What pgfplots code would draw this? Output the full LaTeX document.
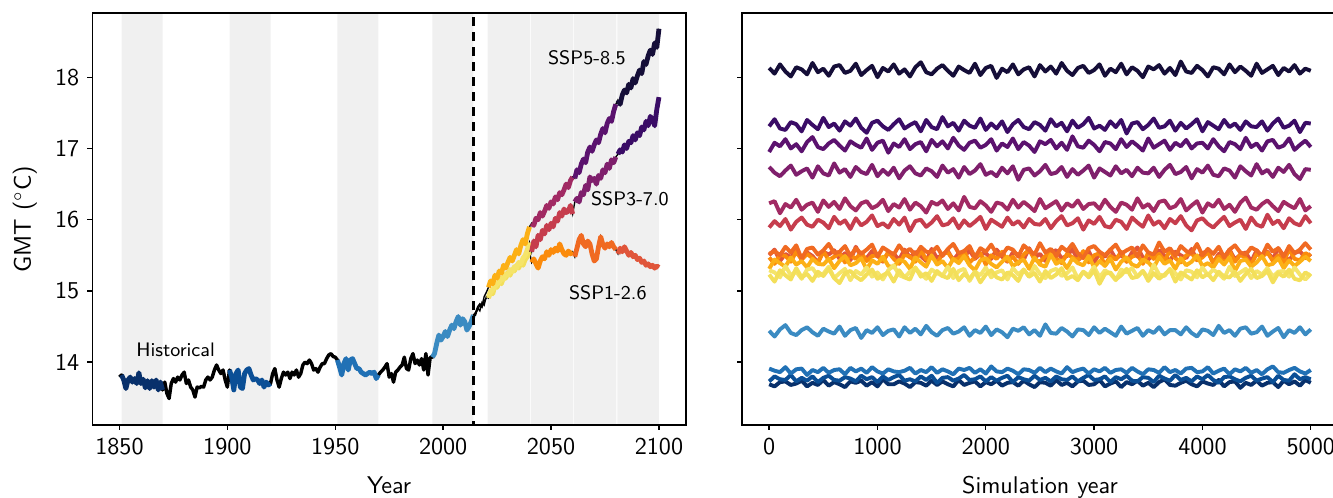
\documentclass[border=0pt]{standalone}
\usepackage{pgfplots}
\usepackage{pgfplotstable}
\pgfplotsset{compat=1.18}

\definecolor{bandgray}{RGB}{240,240,240}
\definecolor{hista}{HTML}{08306B}
\definecolor{histb}{HTML}{0B4F96}
\definecolor{histc}{HTML}{2171B5}
\definecolor{histd}{HTML}{3B8BC2}
\definecolor{sonea}{HTML}{F3DF5A}
\definecolor{soneb}{HTML}{FB8B0C}
\definecolor{sonec}{HTML}{F06A22}
\definecolor{soned}{HTML}{E0553A}
\definecolor{sthreea}{HTML}{F5E46A}
\definecolor{sthreeb}{HTML}{C63D4D}
\definecolor{sthreec}{HTML}{7F1F6C}
\definecolor{sthreed}{HTML}{3A0C66}
\definecolor{sfivea}{HTML}{FCB016}
\definecolor{sfiveb}{HTML}{A12A63}
\definecolor{sfivec}{HTML}{5B126E}
\definecolor{sfived}{HTML}{150E38}

% historical GMT
\pgfplotstableread{
year T
1850 13.79
1851 13.82
1852 13.75
1853 13.63
1854 13.75
1855 13.79
1856 13.72
1857 13.77
1858 13.70
1859 13.85
1860 13.70
1861 13.76
1862 13.64
1863 13.74
1864 13.63
1865 13.74
1866 13.65
1867 13.75
1868 13.61
1869 13.72
1870 13.61
1871 13.72
1872 13.56
1873 13.49
1874 13.70
1875 13.77
1876 13.72
1877 13.79
1878 13.75
1879 13.82
1880 13.86
1881 13.70
1882 13.75
1883 13.65
1884 13.61
1885 13.51
1886 13.65
1887 13.64
1888 13.66
1889 13.65
1890 13.75
1891 13.79
1892 13.75
1893 13.79
1894 13.89
1895 13.96
1896 13.89
1897 13.84
1898 13.89
1899 13.75
1900 13.65
1901 13.89
1902 13.79
1903 13.61
1904 13.84
1905 13.89
1906 13.65
1907 13.63
1908 13.84
1909 13.89
1910 13.91
1911 13.82
1912 13.75
1913 13.77
1914 13.75
1915 13.70
1916 13.75
1917 13.65
1918 13.72
1919 13.68
1920 13.70
1921 13.84
1922 13.91
1923 13.75
1924 13.65
1925 13.77
1926 13.86
1927 13.82
1928 13.86
1929 13.77
1930 13.86
1931 13.82
1932 13.89
1933 13.79
1934 13.84
1935 13.96
1936 14.00
1937 13.98
1938 14.03
1939 13.98
1940 13.89
1941 13.91
1942 13.86
1943 13.93
1944 13.98
1945 13.98
1946 14.05
1947 14.10
1948 14.12
1949 14.08
1950 14.07
1951 14.03
1952 13.93
1953 13.82
1954 13.98
1955 14.05
1956 13.89
1957 14.03
1958 14.05
1959 13.98
1960 13.91
1961 13.91
1962 13.86
1963 13.84
1964 13.82
1965 13.84
1966 13.86
1967 13.84
1968 13.86
1969 13.77
1970 13.82
1971 13.86
1972 13.89
1973 13.93
1974 13.98
1975 13.79
1976 13.84
1977 13.72
1978 13.86
1979 13.89
1980 13.93
1981 13.96
1982 14.07
1983 13.91
1984 13.89
1985 14.05
1986 14.12
1987 13.98
1988 14.03
1989 13.96
1990 14.05
1991 13.89
1992 14.12
1993 13.82
1994 14.07
1995 14.07
1996 14.12
1997 14.26
1998 14.38
1999 14.31
2000 14.36
2001 14.43
2002 14.36
2003 14.45
2004 14.52
2005 14.47
2006 14.57
2007 14.64
2008 14.52
2009 14.61
2010 14.57
2011 14.45
2012 14.50
2013 14.57
2014 14.66
}\hist

% SSP1-2.6
\pgfplotstableread{
year T
2014 14.66
2015 14.66
2016 14.76
2017 14.72
2018 14.84
2019 14.80
2020 14.92
2021 14.90
2022 15.00
2023 14.96
2024 15.08
2025 15.05
2026 15.15
2027 15.10
2028 15.20
2029 15.18
2030 15.26
2031 15.22
2032 15.30
2033 15.28
2034 15.36
2035 15.32
2036 15.40
2037 15.36
2038 15.44
2039 15.48
2040 15.55
2041 15.40
2042 15.45
2043 15.38
2044 15.32
2045 15.42
2046 15.48
2047 15.45
2048 15.55
2049 15.50
2050 15.58
2051 15.54
2052 15.60
2053 15.56
2054 15.66
2055 15.58
2056 15.52
2057 15.50
2058 15.56
2059 15.52
2060 15.55
2061 15.48
2062 15.60
2063 15.72
2064 15.78
2065 15.66
2066 15.62
2067 15.70
2068 15.66
2069 15.52
2070 15.42
2071 15.45
2072 15.62
2073 15.76
2074 15.65
2075 15.60
2076 15.66
2077 15.62
2078 15.68
2079 15.62
2080 15.58
2081 15.52
2082 15.60
2083 15.55
2084 15.62
2085 15.56
2086 15.50
2087 15.54
2088 15.48
2089 15.50
2090 15.44
2091 15.46
2092 15.40
2093 15.42
2094 15.36
2095 15.38
2096 15.34
2097 15.36
2098 15.32
2099 15.35
2100 15.33
}\sspone

% SSP3-7.0
\pgfplotstableread{
year T
2014 14.66
2015 14.68
2016 14.74
2017 14.80
2018 14.77
2019 14.86
2020 14.90
2021 14.92
2022 14.98
2023 15.02
2024 15.06
2025 15.10
2026 15.12
2027 15.18
2028 15.16
2029 15.24
2030 15.22
2031 15.30
2032 15.27
2033 15.34
2034 15.32
2035 15.40
2036 15.38
2037 15.46
2038 15.50
2039 15.58
2040 15.68
2041 15.55
2042 15.70
2043 15.62
2044 15.78
2045 15.72
2046 15.85
2047 15.80
2048 15.92
2049 15.86
2050 15.95
2051 15.90
2052 16.02
2053 15.98
2054 16.10
2055 16.05
2056 16.15
2057 16.10
2058 16.12
2059 16.20
2060 16.08
2061 16.25
2062 16.30
2063 16.25
2064 16.38
2065 16.35
2066 16.48
2067 16.42
2068 16.60
2069 16.55
2070 16.58
2071 16.50
2072 16.62
2073 16.58
2074 16.70
2075 16.66
2076 16.78
2077 16.72
2078 16.84
2079 16.80
2080 16.88
2081 16.92
2082 16.98
2083 16.95
2084 17.05
2085 17.00
2086 17.10
2087 17.08
2088 17.18
2089 17.12
2090 17.22
2091 17.18
2092 17.30
2093 17.26
2094 17.38
2095 17.32
2096 17.45
2097 17.40
2098 17.32
2099 17.55
2100 17.72
}\sspthree

% SSP5-8.5
\pgfplotstableread{
year T
2014 14.66
2015 14.70
2016 14.78
2017 14.82
2018 14.79
2019 14.92
2020 14.98
2021 15.05
2022 15.14
2023 15.10
2024 15.22
2025 15.18
2026 15.28
2027 15.25
2028 15.36
2029 15.32
2030 15.40
2031 15.47
2032 15.42
2033 15.50
2034 15.58
2035 15.52
2036 15.64
2037 15.72
2038 15.66
2039 15.80
2040 15.90
2041 15.95
2042 15.92
2043 16.02
2044 16.00
2045 16.10
2046 16.05
2047 16.12
2048 16.20
2049 16.16
2050 16.25
2051 16.22
2052 16.32
2053 16.28
2054 16.38
2055 16.35
2056 16.42
2057 16.50
2058 16.45
2059 16.55
2060 16.60
2061 16.58
2062 16.70
2063 16.66
2064 16.78
2065 16.85
2066 16.80
2067 16.95
2068 17.02
2069 16.96
2070 17.05
2071 17.12
2072 17.08
2073 17.20
2074 17.28
2075 17.22
2076 17.35
2077 17.42
2078 17.38
2079 17.52
2080 17.62
2081 17.68
2082 17.62
2083 17.75
2084 17.82
2085 17.78
2086 17.90
2087 17.85
2088 17.98
2089 17.92
2090 18.02
2091 18.10
2092 18.05
2093 18.22
2094 18.18
2095 18.30
2096 18.38
2097 18.32
2098 18.48
2099 18.42
2100 18.68
}\sspfive

% control runs, one column per forcing window (sampled every 50 years)
\pgfplotstableread{
x a b c d e f g h i j k l m n o p
0 18.13 17.31 16.95 16.74 16.23 15.89 15.50 15.52 15.47 15.31 15.29 15.23 14.44 13.91 13.73 13.69
50 18.05 17.41 17.08 16.66 16.26 15.98 15.58 15.56 15.38 15.44 15.26 15.13 14.36 13.88 13.80 13.66
100 18.18 17.28 17.03 16.61 16.09 15.91 15.42 15.50 15.51 15.39 15.19 15.29 14.46 13.86 13.76 13.72
150 18.08 17.26 17.13 16.69 16.22 16.01 15.52 15.62 15.49 15.34 15.35 15.22 14.52 13.93 13.75 13.73
200 18.01 17.37 17.00 16.76 16.17 15.86 15.47 15.54 15.41 15.47 15.22 15.16 14.41 13.84 13.82 13.68
250 18.14 17.34 17.06 16.63 16.28 15.97 15.59 15.64 15.55 15.37 15.27 15.32 14.38 13.90 13.73 13.70
300 18.11 17.24 16.96 16.68 16.14 16.03 15.44 15.45 15.44 15.42 15.17 15.19 14.45 13.91 13.78 13.74
350 18.04 17.40 17.09 16.72 16.21 15.93 15.54 15.59 15.52 15.33 15.30 15.24 14.49 13.82 13.74 13.66
400 18.20 17.33 17.16 16.59 16.24 15.90 15.49 15.61 15.46 15.45 15.32 15.14 14.42 13.89 13.80 13.71
450 18.07 17.27 17.02 16.75 16.11 16.00 15.40 15.51 15.39 15.38 15.21 15.27 14.37 13.86 13.72 13.68
500 18.12 17.43 16.99 16.65 16.27 15.96 15.55 15.57 15.56 15.37 15.24 15.21 14.47 13.92 13.78 13.75
550 18.02 17.30 17.07 16.62 16.18 15.88 15.51 15.66 15.43 15.45 15.34 15.31 14.43 13.85 13.81 13.67
600 18.15 17.35 17.12 16.79 16.25 16.04 15.57 15.53 15.48 15.32 15.18 15.18 14.40 13.89 13.75 13.72
650 18.17 17.25 17.04 16.66 16.15 15.94 15.45 15.55 15.53 15.42 15.25 15.11 14.50 13.90 13.74 13.69
700 18.06 17.38 16.97 16.71 16.30 15.99 15.53 15.63 15.40 15.49 15.31 15.25 14.37 13.83 13.79 13.65
750 18.09 17.32 17.10 16.60 16.19 15.87 15.43 15.49 15.50 15.36 15.15 15.28 14.45 13.92 13.77 13.73
800 18.19 17.42 17.05 16.74 16.13 16.02 15.62 15.60 15.45 15.39 15.28 15.20 14.48 13.87 13.73 13.71
850 18.03 17.29 17.01 16.67 16.23 15.92 15.48 15.52 15.54 15.46 15.23 15.15 14.34 13.91 13.81 13.74
900 18.10 17.22 17.14 16.64 16.26 15.97 15.46 15.58 15.42 15.30 15.33 15.23 14.45 13.85 13.76 13.67
950 18.16 17.36 16.98 16.77 16.16 16.06 15.56 15.65 15.49 15.43 15.20 15.30 14.41 13.93 13.79 13.72
1000 18.00 17.39 17.08 16.61 16.20 15.91 15.50 15.48 15.50 15.38 15.26 15.17 14.49 13.87 13.72 13.66
1050 18.13 17.31 17.11 16.70 16.28 15.95 15.41 15.61 15.42 15.48 15.16 15.22 14.38 13.84 13.80 13.76
1100 18.08 17.26 16.94 16.63 16.12 15.89 15.54 15.56 15.55 15.35 15.29 15.26 14.44 13.90 13.75 13.69
1150 18.18 17.34 17.07 16.73 16.22 16.01 15.52 15.51 15.45 15.33 15.36 15.13 14.46 13.87 13.79 13.69
1200 18.05 17.41 17.02 16.58 16.17 15.93 15.44 15.64 15.38 15.44 15.22 15.29 14.36 13.86 13.82 13.73
1250 18.11 17.28 17.13 16.69 16.29 16.03 15.58 15.54 15.51 15.41 15.19 15.19 14.49 13.88 13.74 13.70
1300 18.01 17.33 16.99 16.75 16.14 15.84 15.47 15.59 15.48 15.31 15.27 15.16 14.41 13.92 13.76 13.65
1350 18.14 17.37 17.06 16.65 16.24 15.98 15.55 15.50 15.41 15.47 15.32 15.33 14.47 13.84 13.73 13.72
1400 18.21 17.24 17.09 16.62 16.19 16.00 15.49 15.62 15.57 15.40 15.24 15.20 14.39 13.89 13.80 13.71
1450 18.07 17.40 16.96 16.72 16.10 15.90 15.42 15.55 15.44 15.34 15.17 15.25 14.51 13.86 13.75 13.67
1500 18.04 17.30 17.12 16.68 16.25 15.96 15.59 15.54 15.49 15.50 15.30 15.14 14.42 13.93 13.81 13.74
1550 18.12 17.27 17.03 16.60 16.21 16.05 15.46 15.62 15.39 15.37 15.25 15.28 14.37 13.85 13.71 13.68
1600 18.17 17.44 17.10 16.76 16.27 15.92 15.51 15.49 15.52 15.42 15.21 15.21 14.45 13.90 13.78 13.73
1650 18.09 17.31 17.00 16.66 16.15 15.94 15.56 15.59 15.54 15.32 15.34 15.18 14.48 13.87 13.79 13.69
1700 18.02 17.36 17.15 16.71 16.23 16.02 15.43 15.66 15.43 15.45 15.18 15.31 14.40 13.83 13.74 13.66
1750 18.15 17.25 17.04 16.59 16.13 15.88 15.53 15.53 15.46 15.39 15.28 15.15 14.43 13.91 13.77 13.75
1800 18.10 17.39 16.98 16.74 16.32 15.99 15.48 15.56 15.56 15.49 15.31 15.24 14.49 13.89 13.82 13.68
1850 18.06 17.32 17.08 16.64 16.18 15.91 15.57 15.63 15.40 15.36 15.14 15.17 14.37 13.92 13.75 13.71
1900 18.19 17.29 17.11 16.69 16.16 15.97 15.45 15.47 15.47 15.29 15.27 15.27 14.45 13.85 13.76 13.73
1950 18.03 17.42 17.01 16.78 16.26 16.04 15.52 15.60 15.53 15.43 15.22 15.12 14.41 13.90 13.80 13.66
2000 18.13 17.26 17.05 16.63 16.20 15.87 15.53 15.55 15.37 15.46 15.33 15.23 14.50 13.84 13.73 13.72
2050 18.16 17.35 17.13 16.67 16.11 16.00 15.45 15.65 15.50 15.38 15.19 15.29 14.38 13.94 13.79 13.69
2100 17.99 17.28 16.97 16.61 16.24 15.95 15.58 15.52 15.45 15.33 15.26 15.19 14.46 13.87 13.74 13.74
2150 18.12 17.38 17.07 16.73 16.22 15.90 15.48 15.50 15.55 15.41 15.29 15.16 14.42 13.86 13.78 13.67
2200 18.07 17.23 17.02 16.65 16.14 16.03 15.41 15.61 15.42 15.48 15.16 15.26 14.35 13.91 13.81 13.71
2250 18.18 17.34 17.14 16.75 16.28 15.93 15.54 15.58 15.48 15.35 15.32 15.22 14.47 13.88 13.72 13.72
2300 18.04 17.40 16.99 16.56 16.17 15.98 15.51 15.48 15.38 15.40 15.23 15.14 14.44 13.83 13.79 13.67
2350 18.11 17.30 17.09 16.70 16.25 15.89 15.44 15.64 15.51 15.44 15.30 15.30 14.49 13.90 13.76 13.74
2400 18.14 17.27 17.04 16.72 16.19 16.01 15.60 15.57 15.58 15.31 15.20 15.20 14.39 13.89 13.74 13.69
2450 18.01 17.37 16.95 16.62 16.12 15.94 15.47 15.51 15.44 15.47 15.35 15.25 14.45 13.85 13.81 13.65
2500 18.17 17.33 17.10 16.68 16.29 15.93 15.52 15.67 15.41 15.37 15.24 15.13 14.37 13.92 13.75 13.72
2550 18.08 17.25 17.06 16.77 16.16 16.01 15.42 15.54 15.49 15.34 15.18 15.28 14.53 13.86 13.78 13.71
2600 18.15 17.41 17.12 16.64 16.21 15.88 15.55 15.59 15.54 15.51 15.28 15.18 14.41 13.91 13.73 13.67
2650 18.05 17.31 17.00 16.66 16.26 15.98 15.57 15.49 15.46 15.38 15.31 15.23 14.40 13.87 13.80 13.75
2700 18.20 17.36 17.08 16.74 16.13 16.05 15.46 15.62 15.39 15.43 15.21 15.32 14.48 13.84 13.76 13.68
2750 18.09 17.24 16.98 16.60 16.23 15.92 15.49 15.56 15.52 15.32 15.25 15.17 14.43 13.93 13.75 13.71
2800 18.03 17.39 17.17 16.71 16.18 15.95 15.59 15.66 15.47 15.46 15.33 15.21 14.36 13.86 13.80 13.66
2850 18.13 17.29 17.03 16.63 16.27 16.02 15.43 15.53 15.43 15.39 15.17 15.15 14.46 13.89 13.73 13.73
2900 18.16 17.34 17.01 16.69 16.15 15.86 15.50 15.46 15.56 15.36 15.27 15.27 14.45 13.91 13.78 13.74
2950 18.06 17.43 17.11 16.76 16.22 15.99 15.56 15.60 15.40 15.49 15.22 15.19 14.38 13.84 13.82 13.68
3000 18.10 17.28 17.05 16.59 16.23 15.94 15.40 15.63 15.50 15.33 15.34 15.29 14.49 13.90 13.75 13.69
3050 18.18 17.32 16.96 16.72 16.15 16.04 15.53 15.55 15.53 15.42 15.19 15.10 14.41 13.87 13.76 13.75
3100 18.02 17.26 17.09 16.67 16.28 15.91 15.48 15.50 15.36 15.35 15.29 15.24 14.47 13.92 13.80 13.66
3150 18.12 17.38 17.07 16.62 16.18 15.89 15.58 15.58 15.49 15.45 15.24 15.26 14.42 13.85 13.72 13.70
3200 18.07 17.30 16.99 16.75 16.11 16.00 15.45 15.65 15.44 15.30 15.15 15.16 14.37 13.89 13.79 13.73
3250 18.19 17.40 17.13 16.65 16.24 15.97 15.51 15.52 15.55 15.41 15.30 15.22 14.50 13.90 13.76 13.65
3300 18.04 17.21 17.02 16.70 16.21 15.87 15.41 15.57 15.41 15.47 15.26 15.31 14.40 13.85 13.81 13.72
3350 18.14 17.35 17.10 16.61 16.14 16.03 15.54 15.61 15.48 15.37 15.32 15.18 14.44 13.92 13.74 13.69
3400 18.09 17.37 17.04 16.73 16.30 15.96 15.61 15.48 15.51 15.34 15.20 15.20 14.48 13.87 13.73 13.74
3450 18.00 17.27 16.97 16.66 16.17 15.90 15.47 15.64 15.38 15.44 15.28 15.28 14.37 13.83 13.79 13.67
3500 18.15 17.33 17.14 16.65 16.22 16.06 15.44 15.54 15.54 15.40 15.18 15.14 14.45 13.90 13.78 13.71
3550 18.11 17.42 17.01 16.73 16.12 15.93 15.52 15.51 15.45 15.32 15.37 15.25 14.41 13.89 13.72 13.65
3600 18.17 17.29 17.06 16.60 16.25 15.98 15.57 15.68 15.52 15.48 15.23 15.17 14.49 13.85 13.81 13.72
3650 18.05 17.31 17.11 16.70 16.27 15.88 15.49 15.55 15.42 15.38 15.21 15.23 14.39 13.93 13.77 13.76
3700 18.13 17.39 16.98 16.77 16.16 16.01 15.42 15.60 15.57 15.43 15.31 15.30 14.45 13.86 13.74 13.68
3750 18.03 17.25 17.08 16.64 16.19 15.95 15.55 15.49 15.46 15.31 15.25 15.13 14.45 13.89 13.82 13.67
3800 18.22 17.36 17.03 16.67 16.29 16.05 15.50 15.63 15.40 15.46 15.16 15.26 14.39 13.84 13.75 13.71
3850 18.08 17.28 17.12 16.74 16.13 15.92 15.46 15.56 15.50 15.36 15.29 15.21 14.49 13.91 13.78 13.74
3900 18.06 17.34 17.00 16.58 16.20 15.85 15.59 15.53 15.53 15.41 15.27 15.16 14.41 13.92 13.73 13.69
3950 18.16 17.41 17.07 16.71 16.26 15.99 15.43 15.66 15.43 15.50 15.19 15.29 14.36 13.86 13.80 13.66
4000 18.10 17.24 17.08 16.66 16.10 16.02 15.53 15.50 15.47 15.35 15.33 15.19 14.46 13.87 13.76 13.73
4050 18.01 17.37 17.00 16.76 16.23 15.94 15.56 15.59 15.55 15.39 15.22 15.24 14.44 13.93 13.82 13.70
4100 18.14 17.32 17.13 16.63 16.18 15.89 15.39 15.52 15.39 15.33 15.30 15.15 14.38 13.84 13.75 13.68
4150 18.12 17.27 17.03 16.61 16.28 15.97 15.52 15.62 15.49 15.45 15.24 15.27 14.51 13.88 13.71 13.75
4200 18.04 17.40 16.96 16.72 16.15 16.04 15.47 15.47 15.44 15.37 15.17 15.20 14.41 13.91 13.79 13.66
4250 18.18 17.30 17.09 16.69 16.21 15.91 15.58 15.58 15.56 15.47 15.34 15.19 14.45 13.83 13.80 13.72
4300 18.07 17.35 17.06 16.59 16.11 15.96 15.44 15.64 15.41 15.28 15.21 15.27 14.37 13.90 13.76 13.73
4350 18.15 17.26 16.99 16.75 16.24 16.00 15.51 15.54 15.51 15.42 15.26 15.14 14.47 13.87 13.73 13.64
4400 18.09 17.38 17.15 16.68 16.31 15.87 15.54 15.51 15.46 15.44 15.31 15.24 14.49 13.92 13.78 13.71
4450 18.02 17.31 17.02 16.62 16.17 16.03 15.41 15.61 15.37 15.34 15.18 15.31 14.40 13.85 13.81 13.68
4500 18.19 17.30 17.07 16.78 16.14 15.93 15.57 15.57 15.52 15.40 15.28 15.18 14.42 13.89 13.74 13.74
4550 18.06 17.38 16.97 16.65 16.22 15.90 15.48 15.49 15.48 15.49 15.23 15.21 14.50 13.83 13.77 13.67
4600 18.11 17.25 17.10 16.70 16.27 16.07 15.55 15.65 15.54 15.36 15.32 15.28 14.37 13.90 13.79 13.71
4650 18.16 17.35 17.12 16.60 16.19 15.94 15.45 15.55 15.42 15.38 15.20 15.12 14.43 13.94 13.72 13.72
4700 18.03 17.42 17.01 16.73 16.12 15.99 15.60 15.60 15.50 15.46 15.27 15.25 14.48 13.86 13.81 13.65
4750 18.13 17.29 17.04 16.67 16.25 15.88 15.49 15.48 15.40 15.32 15.28 15.20 14.35 13.85 13.75 13.74
4800 18.08 17.32 17.14 16.77 16.20 16.02 15.43 15.63 15.59 15.43 15.20 15.30 14.45 13.89 13.74 13.69
4850 18.17 17.39 16.98 16.64 16.16 15.95 15.53 15.53 15.45 15.35 15.33 15.17 14.41 13.92 13.83 13.73
4900 18.05 17.23 17.05 16.57 16.29 15.92 15.56 15.58 15.43 15.41 15.23 15.15 14.49 13.87 13.76 13.67
4950 18.12 17.36 17.11 16.71 16.13 16.05 15.46 15.67 15.53 15.48 15.16 15.26 14.39 13.84 13.79 13.75
5000 18.09 17.35 17.02 16.70 16.19 15.95 15.52 15.58 15.49 15.42 15.24 15.21 14.46 13.89 13.76 13.71
}\ctrl

\pgfplotsset{
  gmt/.style={
    scale only axis, height=179pt,
    ymin=13.12, ymax=18.9, ytick={14,15,16,17,18},
    tick align=outside, major tick length=2.2pt,
    xtick pos=bottom, ytick pos=left,
    tick style={black, line width=0.6pt},
    axis line style={line width=0.6pt},
    axis on top,
    ticklabel style={font=\sffamily\fontsize{10.5}{12}\selectfont},
    /pgf/number format/assume math mode=true,
    /pgf/number format/set thousands separator={},
    label style={font=\sffamily\fontsize{10.5}{12}\selectfont},
    xlabel style={yshift=-2.5pt},
  },
  band/.style={fill=bandgray, draw=none},
  histline/.style={line width=2.1pt, line join=round},
  sspline/.style={line width=2.1pt, line join=round},
  ctrlline/.style={line width=1.7pt, line join=round},
}
\tikzset{lab/.style={font=\sffamily\fontsize{8.5}{10}\selectfont}}

\begin{document}
\begin{tikzpicture}
\begin{axis}[gmt, at={(0pt,0pt)}, anchor=south west, width=258pt,
  xmin=1837.5, xmax=2112.5, xtick={1850,1900,1950,2000,2050,2100},
  xlabel={Year}, ylabel={GMT ($^\circ$C)}, ylabel style={yshift=1pt}]
  % averaging windows
  \addplot[band] coordinates {(1851,12) (1870,12) (1870,20) (1851,20)} \closedcycle;
  \addplot[band] coordinates {(1901,12) (1920,12) (1920,20) (1901,20)} \closedcycle;
  \addplot[band] coordinates {(1951,12) (1970,12) (1970,20) (1951,20)} \closedcycle;
  \addplot[band] coordinates {(1995,12) (2014,12) (2014,20) (1995,20)} \closedcycle;
  \addplot[band] coordinates {(2020.6,12) (2040.3,12) (2040.3,20) (2020.6,20)} \closedcycle;
  \addplot[band] coordinates {(2040.7,12) (2060.3,12) (2060.3,20) (2040.7,20)} \closedcycle;
  \addplot[band] coordinates {(2060.7,12) (2080.3,12) (2080.3,20) (2060.7,20)} \closedcycle;
  \addplot[band] coordinates {(2080.7,12) (2100,12) (2100,20) (2080.7,20)} \closedcycle;

  % historical
  \addplot[black, line width=1.5pt, line join=round] table[x=year, y=T] {\hist};
  \addplot[hista, histline, restrict x to domain=1851:1870] table[x=year, y=T] {\hist};
  \addplot[histb, histline, restrict x to domain=1901:1920] table[x=year, y=T] {\hist};
  \addplot[histc, histline, restrict x to domain=1951:1970] table[x=year, y=T] {\hist};
  \addplot[histd, histline, restrict x to domain=1995:2014] table[x=year, y=T] {\hist};

  % scenarios: thin black path, coloured windows on top
  \addplot[black, line width=0.6pt] table[x=year, y=T] {\sspone};
  \addplot[black, line width=0.6pt] table[x=year, y=T] {\sspthree};
  \addplot[black, line width=0.6pt] table[x=year, y=T] {\sspfive};

  \addplot[sonea, sspline, restrict x to domain=2021:2040] table[x=year, y=T] {\sspone};
  \addplot[sthreea, sspline, restrict x to domain=2021:2040] table[x=year, y=T] {\sspthree};
  \addplot[sfivea, sspline, restrict x to domain=2021:2040] table[x=year, y=T] {\sspfive};

  \addplot[soneb, sspline, restrict x to domain=2041:2060] table[x=year, y=T] {\sspone};
  \addplot[sonec, sspline, restrict x to domain=2061:2080] table[x=year, y=T] {\sspone};
  \addplot[soned, sspline, restrict x to domain=2081:2100] table[x=year, y=T] {\sspone};

  \addplot[sthreeb, sspline, restrict x to domain=2041:2060] table[x=year, y=T] {\sspthree};
  \addplot[sthreec, sspline, restrict x to domain=2061:2080] table[x=year, y=T] {\sspthree};
  \addplot[sthreed, sspline, restrict x to domain=2081:2100] table[x=year, y=T] {\sspthree};

  \addplot[sfiveb, sspline, restrict x to domain=2041:2060] table[x=year, y=T] {\sspfive};
  \addplot[sfivec, sspline, restrict x to domain=2061:2080] table[x=year, y=T] {\sspfive};
  \addplot[sfived, sspline, restrict x to domain=2081:2100] table[x=year, y=T] {\sspfive};

  % present day
  \addplot[black, line width=1.2pt, dash pattern=on 4pt off 2.5pt] coordinates {(2014,12) (2014,20)};

  \node[lab] at (axis cs:1876,14.18) {Historical};
  \node[lab] at (axis cs:2066.6,18.28) {SSP5-8.5};
  \node[lab] at (axis cs:2086.5,16.29) {SSP3-7.0};
  \node[lab] at (axis cs:2076.3,14.97) {SSP1-2.6};
\end{axis}

\begin{axis}[gmt, at={(282.4pt,0pt)}, anchor=south west, width=259pt,
  xmin=-250, xmax=5250, xtick={0,1000,2000,3000,4000,5000},
  yticklabels={}, xlabel={Simulation year}]
  \addplot[hista, ctrlline] table[x=x, y=p] {\ctrl};
  \addplot[histb, ctrlline] table[x=x, y=o] {\ctrl};
  \addplot[histc, ctrlline] table[x=x, y=n] {\ctrl};
  \addplot[histd, ctrlline] table[x=x, y=m] {\ctrl};
  \addplot[soned, ctrlline] table[x=x, y=g] {\ctrl};
  \addplot[soneb, ctrlline] table[x=x, y=i] {\ctrl};
  \addplot[sonec, ctrlline] table[x=x, y=h] {\ctrl};
  \addplot[sfivea, ctrlline] table[x=x, y=j] {\ctrl};
  \addplot[sthreea, ctrlline] table[x=x, y=k] {\ctrl};
  \addplot[sonea, ctrlline] table[x=x, y=l] {\ctrl};
  \addplot[sthreeb, ctrlline] table[x=x, y=f] {\ctrl};
  \addplot[sfiveb, ctrlline] table[x=x, y=e] {\ctrl};
  \addplot[sthreec, ctrlline] table[x=x, y=d] {\ctrl};
  \addplot[sfivec, ctrlline] table[x=x, y=c] {\ctrl};
  \addplot[sthreed, ctrlline] table[x=x, y=b] {\ctrl};
  \addplot[sfived, ctrlline] table[x=x, y=a] {\ctrl};
\end{axis}

\pgfresetboundingbox
\path[use as bounding box] (-40.2pt,-31.7pt) rectangle (539.3pt,184.7pt);
\end{tikzpicture}
\end{document}
